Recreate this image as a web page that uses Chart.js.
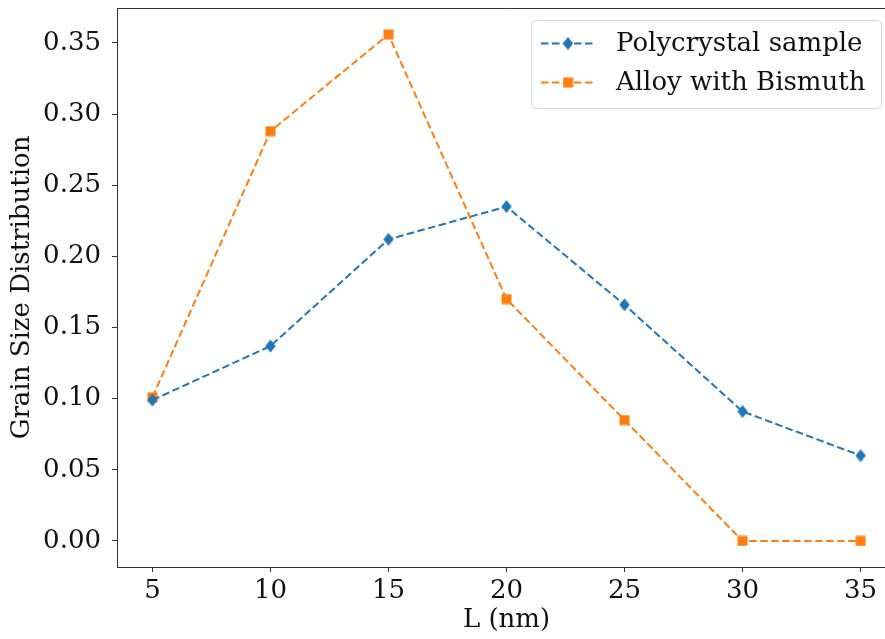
<!DOCTYPE html>
<html>
<head>
<meta charset="utf-8">
<script src="https://cdn.jsdelivr.net/npm/chart.js@4.4.1/dist/chart.umd.min.js"></script>
<style>
  html, body { margin: 0; padding: 0; background: #fff; overflow: hidden; }
  #wrap { width: 885px; height: 639px; overflow: hidden; }
  canvas { display: block; }
</style>
</head>
<body>
<div id="wrap"><canvas id="c" width="896" height="639"></canvas></div>
<script>
// Grain size (nm) and the measured distribution for each sample
const lengths = [5, 10, 15, 20, 25, 30, 35];
const polycrystal = [0.099, 0.137, 0.212, 0.235, 0.166, 0.091, 0.060];
const alloyBismuth = [0.101, 0.288, 0.356, 0.170, 0.085, 0.000, 0.000];
const xTicks = [5, 10, 15, 20, 25, 30, 35];
const yTicks = [0.00, 0.05, 0.10, 0.15, 0.20, 0.25, 0.30, 0.35];
const seriesNames = ['Polycrystal sample', 'Alloy with Bismuth'];

const BLUE = '#1f77b4';
const ORANGE = '#ff7f0e';
const FONT = "'DejaVu Serif', serif";
const FONT_SIZE = 26;

// Marker images: diamond and square
function makeMarker(kind, color) {
  const c = document.createElement('canvas');
  if (kind === 'diamond') {
    c.width = 12; c.height = 14;
    const g = c.getContext('2d');
    g.fillStyle = color;
    g.beginPath();
    g.moveTo(6, 0.5); g.lineTo(11.2, 7); g.lineTo(6, 13.5); g.lineTo(0.8, 7);
    g.closePath(); g.fill();
  } else {
    c.width = 11; c.height = 11;
    const g = c.getContext('2d');
    g.fillStyle = color;
    g.fillRect(0.5, 0.5, 10, 10);
  }
  return c;
}
const diamond = makeMarker('diamond', BLUE);
const square = makeMarker('square', ORANGE);

const toPoints = ys => lengths.map((x, i) => ({ x: x, y: ys[i] }));

// Top spine and the legend box
const framePlugin = {
  id: 'frame',
  afterDraw(chart) {
    const { ctx, chartArea: a } = chart;
    ctx.save();
    ctx.strokeStyle = '#333';
    ctx.lineWidth = 1;
    ctx.beginPath();
    ctx.moveTo(a.left, a.top + 0.5);
    ctx.lineTo(a.right, a.top + 0.5);
    ctx.stroke();

    // legend
    const bx = 531.5, by = 20.5, bw = 350, bh = 88, r = 5;
    ctx.fillStyle = 'rgba(255,255,255,0.8)';
    ctx.strokeStyle = '#d6d6d6';
    ctx.beginPath();
    ctx.moveTo(bx + r, by);
    ctx.lineTo(bx + bw - r, by);
    ctx.quadraticCurveTo(bx + bw, by, bx + bw, by + r);
    ctx.lineTo(bx + bw, by + bh - r);
    ctx.quadraticCurveTo(bx + bw, by + bh, bx + bw - r, by + bh);
    ctx.lineTo(bx + r, by + bh);
    ctx.quadraticCurveTo(bx, by + bh, bx, by + bh - r);
    ctx.lineTo(bx, by + r);
    ctx.quadraticCurveTo(bx, by, bx + r, by);
    ctx.closePath();
    ctx.fill();
    ctx.stroke();

    const rows = [
      { y: 43.5, color: BLUE, img: diamond, text: seriesNames[0] },
      { y: 82.5, color: ORANGE, img: square, text: seriesNames[1] }
    ];
    rows.forEach(row => {
      ctx.strokeStyle = row.color;
      ctx.lineWidth = 2;
      ctx.setLineDash([7.5, 3.5]);
      ctx.beginPath();
      ctx.moveTo(541, row.y);
      ctx.lineTo(594, row.y);
      ctx.stroke();
      ctx.setLineDash([]);
      ctx.drawImage(row.img, 568 - row.img.width / 2, row.y - row.img.height / 2);
      ctx.fillStyle = '#111';
      ctx.font = FONT_SIZE + 'px ' + FONT;
      ctx.textBaseline = 'middle';
      ctx.textAlign = 'left';
      ctx.fillText(row.text, 616, row.y + 1);
    });
    ctx.restore();
  }
};

function noPad(s) {
  s.paddingTop = 0; s.paddingBottom = 0; s.paddingLeft = 0; s.paddingRight = 0;
}

new Chart(document.getElementById('c'), {
  type: 'line',
  data: {
    datasets: [
      {
        label: seriesNames[0],
        data: toPoints(polycrystal),
        borderColor: BLUE,
        backgroundColor: BLUE,
        borderWidth: 2,
        borderDash: [7.5, 3.5],
        pointStyle: diamond,
        pointRadius: 6,
        fill: false,
        tension: 0
      },
      {
        label: seriesNames[1],
        data: toPoints(alloyBismuth),
        borderColor: ORANGE,
        backgroundColor: ORANGE,
        borderWidth: 2,
        borderDash: [7.5, 3.5],
        pointStyle: square,
        pointRadius: 6,
        fill: false,
        tension: 0
      }
    ]
  },
  options: {
    responsive: false,
    animation: false,
    events: [],
    layout: { padding: { top: 8, left: 0, right: 0, bottom: 0 }, autoPadding: false },
    plugins: { legend: { display: false }, tooltip: { enabled: false } },
    scales: {
      x: {
        type: 'linear',
        min: 3.5,
        max: 36.5,
        afterFit(s) { s.height = 72; noPad(s); },
        afterBuildTicks(s) { s.ticks = xTicks.map(v => ({ value: v })); },
        grid: { drawOnChartArea: false, drawTicks: true, tickLength: 5, color: '#333', lineWidth: 1 },
        border: { display: true, color: '#333', width: 1 },
        ticks: {
          color: '#111',
          font: { family: FONT, size: FONT_SIZE },
          padding: 4,
          maxRotation: 0,
          callback: v => String(v)
        },
        title: {
          display: true,
          text: 'L (nm)',
          color: '#111',
          font: { family: FONT, size: FONT_SIZE },
          padding: { top: 0, bottom: 3 }
        }
      },
      y: {
        type: 'linear',
        min: -0.0183,
        max: 0.3746,
        afterFit(s) { s.width = 117; noPad(s); },
        afterBuildTicks(s) { s.ticks = yTicks.map(v => ({ value: v })); },
        grid: { drawOnChartArea: false, drawTicks: true, tickLength: 5, color: '#333', lineWidth: 1 },
        border: { display: true, color: '#333', width: 1 },
        ticks: {
          color: '#111',
          font: { family: FONT, size: FONT_SIZE },
          padding: 11,
          callback: v => v.toFixed(2)
        },
        title: {
          display: true,
          text: 'Grain Size Distribution',
          color: '#111',
          font: { family: FONT, size: FONT_SIZE },
          padding: { top: 7, bottom: 0 }
        }
      }
    }
  },
  plugins: [framePlugin]
});
</script>
</body>
</html>
